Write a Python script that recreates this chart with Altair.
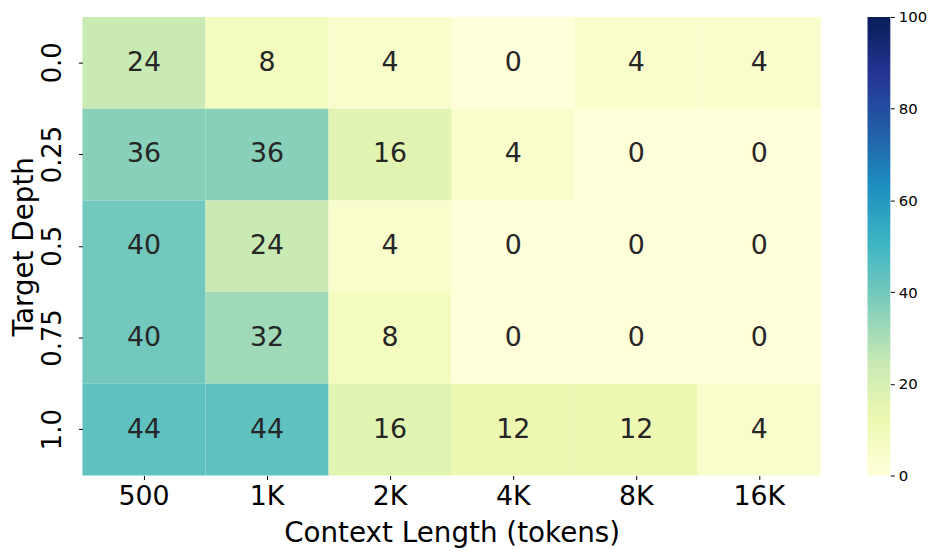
import altair as alt
import pandas as pd

contexts = ["500", "1K", "2K", "4K", "8K", "16K"]
depths = ["0.0", "0.25", "0.5", "0.75", "1.0"]
values = [
    [24, 8, 4, 0, 4, 4],
    [36, 36, 16, 4, 0, 0],
    [40, 24, 4, 0, 0, 0],
    [40, 32, 8, 0, 0, 0],
    [44, 44, 16, 12, 12, 4],
]
cmap_stops = [0, 12.5, 25, 37.5, 50, 62.5, 75, 87.5, 100]
cmap_colors = ["#ffffd9", "#edf8b1", "#c7e9b4", "#7fcdbb", "#41b6c4",
               "#1d91c0", "#225ea8", "#253494", "#081d58"]
colorbar_ticks = [0, 20, 40, 60, 80, 100]

rows = []
for i, d in enumerate(depths):
    for j, c in enumerate(contexts):
        rows.append({"depth": d, "context": c, "value": values[i][j]})
df = pd.DataFrame(rows)

FONT = "DejaVu Sans"

base = alt.Chart(df).encode(
    x=alt.X("context:N", sort=contexts, title="Context Length (tokens)",
            axis=alt.Axis(labelAngle=0, labelFontSize=27, titleFontSize=28,
                          tickSize=4, tickColor="black", domain=False,
                          labelColor="black", titleColor="black",
                          labelPadding=4, titlePadding=10, titleFontWeight="normal",
                          labelFont=FONT, titleFont=FONT)),
    y=alt.Y("depth:N", sort=depths, title="Target Depth",
            axis=alt.Axis(labelAngle=270, labelAlign="center", labelBaseline="bottom",
                          labelFontSize=26, titleFontSize=28, tickSize=4,
                          tickColor="black", domain=False, labelColor="black",
                          titleColor="black", labelPadding=13, titlePadding=1,
                          titleFontWeight="normal", labelFont=FONT, titleFont=FONT)),
)

rect = base.mark_rect().encode(
    color=alt.Color("value:Q",
                    scale=alt.Scale(domain=cmap_stops, range=cmap_colors,
                                    interpolate="rgb"),
                    legend=None)
)

text = base.mark_text(fontSize=27, font=FONT, color="#262626").encode(
    text="value:Q"
)

heat = (rect + text).properties(width=744, height=462)

grad = alt.LinearGradient(
    gradient="linear",
    stops=[alt.GradientStop(offset=s / 100, color=c)
           for s, c in zip(cmap_stops, cmap_colors)],
    x1=0, x2=0, y1=1, y2=0,
)

cbar_df = pd.DataFrame({"lo": [0], "hi": [100]})
cbar = alt.Chart(cbar_df).mark_rect(fill=grad).encode(
    y=alt.Y("lo:Q", scale=alt.Scale(domain=[0, 100], nice=False, zero=False),
            title=None,
            axis=alt.Axis(orient="right", values=colorbar_ticks, tickSize=4,
                          tickColor="black", domain=False, grid=False,
                          labelFontSize=15, labelFont=FONT, labelColor="black",
                          labelPadding=4, labelOverlap=False)),
    y2="hi:Q",
    x=alt.value(0),
    x2=alt.value(23),
).properties(width=23, height=462)

chart = alt.hconcat(heat, cbar, spacing=47).properties(
    padding={"left": 3, "top": 0, "right": 5, "bottom": 5},
).configure_view(stroke=None).configure_scale(bandPaddingInner=0, bandPaddingOuter=0)

chart.save("out.html", embed_options={"renderer": "svg", "actions": False})
